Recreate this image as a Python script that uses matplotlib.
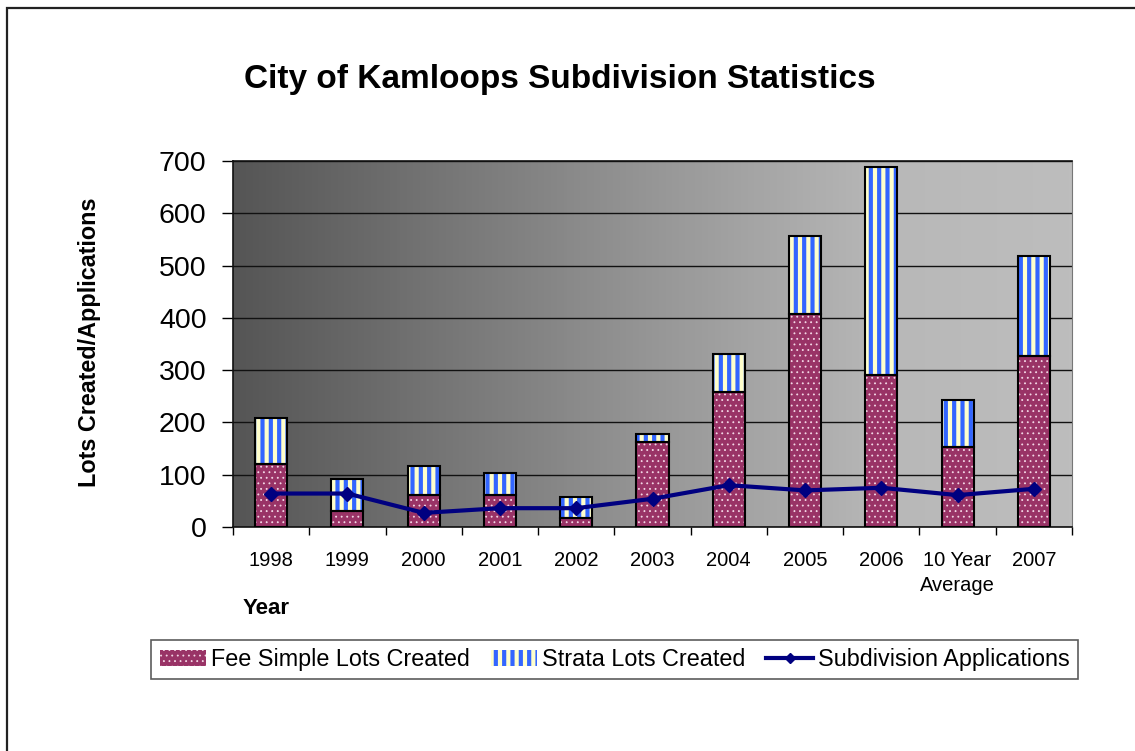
import numpy as np
import matplotlib

matplotlib.use("Agg")
import matplotlib.pyplot as plt
from matplotlib.patches import Patch, Rectangle
from matplotlib.lines import Line2D
from matplotlib.colors import LinearSegmentedColormap

# values
CATEGORIES = ["1998", "1999", "2000", "2001", "2002", "2003", "2004",
              "2005", "2006", "10 Year\nAverage", "2007"]
FEE_SIMPLE = [120, 30, 61, 61, 18, 162, 258, 408, 291, 153, 328]
STRATA = [89, 62, 56, 43, 40, 16, 73, 148, 397, 90, 191]
APPLICATIONS = [64, 64, 27, 36, 36, 54, 80, 70, 75, 61, 73]
Y_TICKS = [0, 100, 200, 300, 400, 500, 600, 700]

MAROON = "#993366"
BLUE = "#3366FF"
CREAM = "#FFFFCC"
DOT = "#f4d8e6"
NAVY = "#000080"
STRIPE_LW = 3.0
DOT_LW = 0.6

plt.rcParams.update({
    "font.family": ["Liberation Sans", "DejaVu Sans"],
})

fig = plt.figure(figsize=(11.35, 7.51), dpi=100)
fig.patches.append(Rectangle((7 / 1135, -0.1), 1.2, (751 - 8) / 751 + 0.1,
                             transform=fig.transFigure, fill=False,
                             edgecolor="#222222", linewidth=1.6))

ax = fig.add_axes([233 / 1135, (751 - 527) / 751, 839 / 1135, 366 / 751])

# horizontal grey gradient in the plot area
grad = LinearSegmentedColormap.from_list(
    "bg", [(0.0, "#555555"), (0.5, "#969696"), (0.78, "#b8b8b8"), (1.0, "#bdbdbd")])
ax.imshow(np.linspace(0, 1, 256)[None, :], cmap=grad, aspect="auto",
          extent=[0, 1, 0, 1], transform=ax.transAxes, zorder=0)

x = np.arange(len(CATEGORIES))
w = 0.42


def set_hlw(patch, lw):
    if hasattr(patch, "set_hatch_linewidth"):
        patch.set_hatch_linewidth(lw)


def hatched(bottom, height, face, hatch, hcolor, hlw):
    with plt.rc_context({"hatch.linewidth": hlw}):
        bars = ax.bar(x, height, w, bottom=bottom, color=face, hatch=hatch,
                      edgecolor=hcolor, linewidth=0, zorder=2)
    for b in bars:
        set_hlw(b, hlw)
    ax.bar(x, height, w, bottom=bottom, facecolor="none",
           edgecolor="black", linewidth=1.5, zorder=3)


hatched(0, FEE_SIMPLE, MAROON, "...", DOT, DOT_LW)
hatched(FEE_SIMPLE, STRATA, CREAM, "||", BLUE, STRIPE_LW)

ax.plot(x, APPLICATIONS, color=NAVY, linewidth=3, marker="D",
        markersize=7, zorder=4)

ax.set_xlim(-0.5, len(CATEGORIES) - 0.5)
ax.set_ylim(0, 700)
ax.set_yticks(Y_TICKS)
ax.set_yticklabels([str(v) for v in Y_TICKS], fontsize=20.5)
ax.tick_params(axis="y", direction="out", length=8, width=1, pad=11)

ax.set_xticks(x)
ax.set_xticklabels(CATEGORIES, fontsize=14.5, linespacing=1.45)
ax.set_xticks(np.arange(len(CATEGORIES) + 1) - 0.5, minor=True)
ax.tick_params(axis="x", which="major", length=0, pad=17)
ax.tick_params(axis="x", which="minor", direction="out", length=6, width=1)

ax.yaxis.grid(True, color="#111111", linewidth=1.0)
ax.set_axisbelow(True)
for side in ("left", "top", "bottom"):
    ax.spines[side].set_color("#111111")
    ax.spines[side].set_linewidth(1.2)
ax.spines["right"].set_color("#777777")

fig.text(244 / 1135, 1 - 88 / 751, "City of Kamloops Subdivision Statistics",
         fontsize=24, fontweight="bold", ha="left", va="baseline")
fig.text(90 / 1135, 1 - 342 / 751, "Lots Created/Applications", fontsize=16.8,
         fontweight="bold", rotation=90, ha="center", va="center")
fig.text(243 / 1135, 1 - 614 / 751, "Year", fontsize=16, fontweight="bold",
         ha="left", va="baseline")

handles = [
    Patch(facecolor=MAROON, edgecolor=DOT, hatch="...", linewidth=0),
    Patch(facecolor=CREAM, edgecolor=BLUE, hatch="||", linewidth=0),
    Line2D([0], [0], color=NAVY, linewidth=3, marker="D", markersize=5),
]
with plt.rc_context({"hatch.linewidth": STRIPE_LW}):
    leg = fig.legend(handles,
                     ["Fee Simple Lots Created", "Strata Lots Created",
                      "Subdivision Applications"],
                     loc="center", bbox_to_anchor=(614.5 / 1135, 91.5 / 751),
                     ncol=3, fontsize=16.8, frameon=True, fancybox=False,
                     edgecolor="#333333", handlelength=2.0, handletextpad=0.2,
                     columnspacing=0.9, borderpad=0.35, handleheight=0.7)
leg.get_frame().set_linewidth(1.2)
lp = leg.get_patches()
set_hlw(lp[0], DOT_LW)
set_hlw(lp[1], STRIPE_LW)

fig.savefig("out.png", dpi=100, facecolor="white")
